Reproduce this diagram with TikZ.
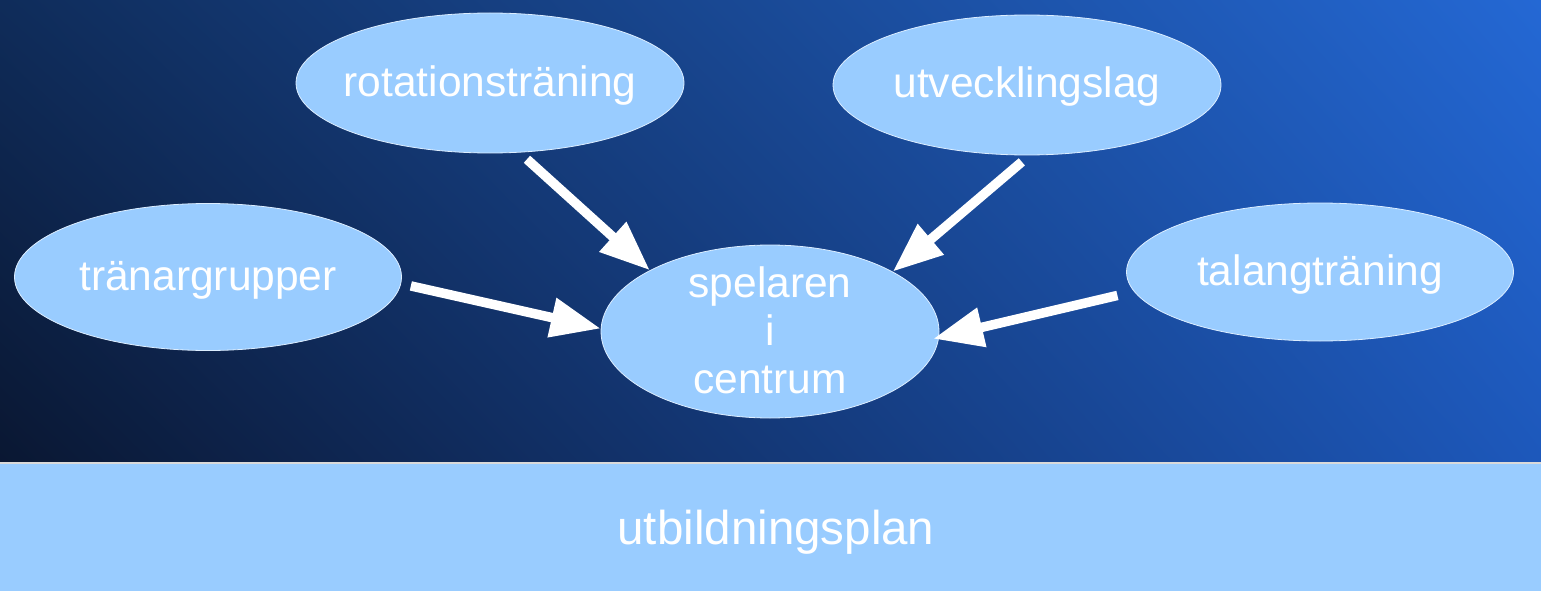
\documentclass[tikz,border=0pt]{standalone}
\usepackage{fontspec}
\setmainfont{Liberation Sans}
\usetikzlibrary{arrows.meta,shapes.geometric,shadings}
\definecolor{bubble}{HTML}{99CCFF}
\definecolor{bgul}{HTML}{0F2C5A}
\definecolor{bgur}{HTML}{2468D4}
\definecolor{bgll}{HTML}{0A1732}
\definecolor{bglr}{HTML}{1D58BB}
\definecolor{edge}{HTML}{DDEEFF}
\tikzset{
  bub/.style={ellipse, fill=bubble, draw=edge, line width=0.8pt, inner sep=0pt},
  txt/.style={text=white, font=\fontsize{42.5}{48}\selectfont, align=center, inner sep=0pt},
  arr/.style={draw=white, line width=9.5pt, shorten <=10pt, -{Triangle[length=50pt,width=38pt]}}
}
\begin{document}
\begin{tikzpicture}[x=1pt,y=-1pt]
\useasboundingbox (0,0) rectangle (1541,591);
\shade[upper left=bgul, upper right=bgur, lower left=bgll, lower right=bglr] (0,0) rectangle (1541,463);
\fill[bubble] (0,463) rectangle (1541,591);
\draw[color=white!70!gray, line width=1.2pt] (0,463) -- (1541,463);
\node[txt, font=\fontsize{47.5}{54}\selectfont] (plan) at (776,532) {utbildningsplan};

\node[bub, minimum width=388pt, minimum height=140pt] (rot) at (490,83) {};
\node[txt] (rott) at ([yshift=-3pt]rot.center) {rotationsträning};
\node[bub, minimum width=388pt, minimum height=140pt] (utv) at (1027,85) {};
\node[txt] (utvt) at ([yshift=-2pt]utv.center) {utvecklingslag};
\node[bub, minimum width=387pt, minimum height=147pt] (tra) at (208,277) {};
\node[txt] (trat) at ([yshift=-3pt]tra.center) {tränargrupper};
\node[bub, minimum width=387pt, minimum height=138pt] (tal) at (1320,272) {};
\node[txt] (talt) at ([yshift=-3pt]tal.center) {talangträning};
\node[bub, minimum width=338pt, minimum height=173pt] (c) at (770,331.5) {};
\node[txt] (ct) at (770,330) {spelaren\\i\\centrum};

\draw[arr] (rot.-67) -- (c.153);
\draw[arr] (utv.-88) -- (c.26);
\draw[arr] (tra.-2) -- (c.179);
\draw[arr, shorten <=17pt, shorten >=-6pt] (tal.186) -- (c.-2);
\end{tikzpicture}
\end{document}
